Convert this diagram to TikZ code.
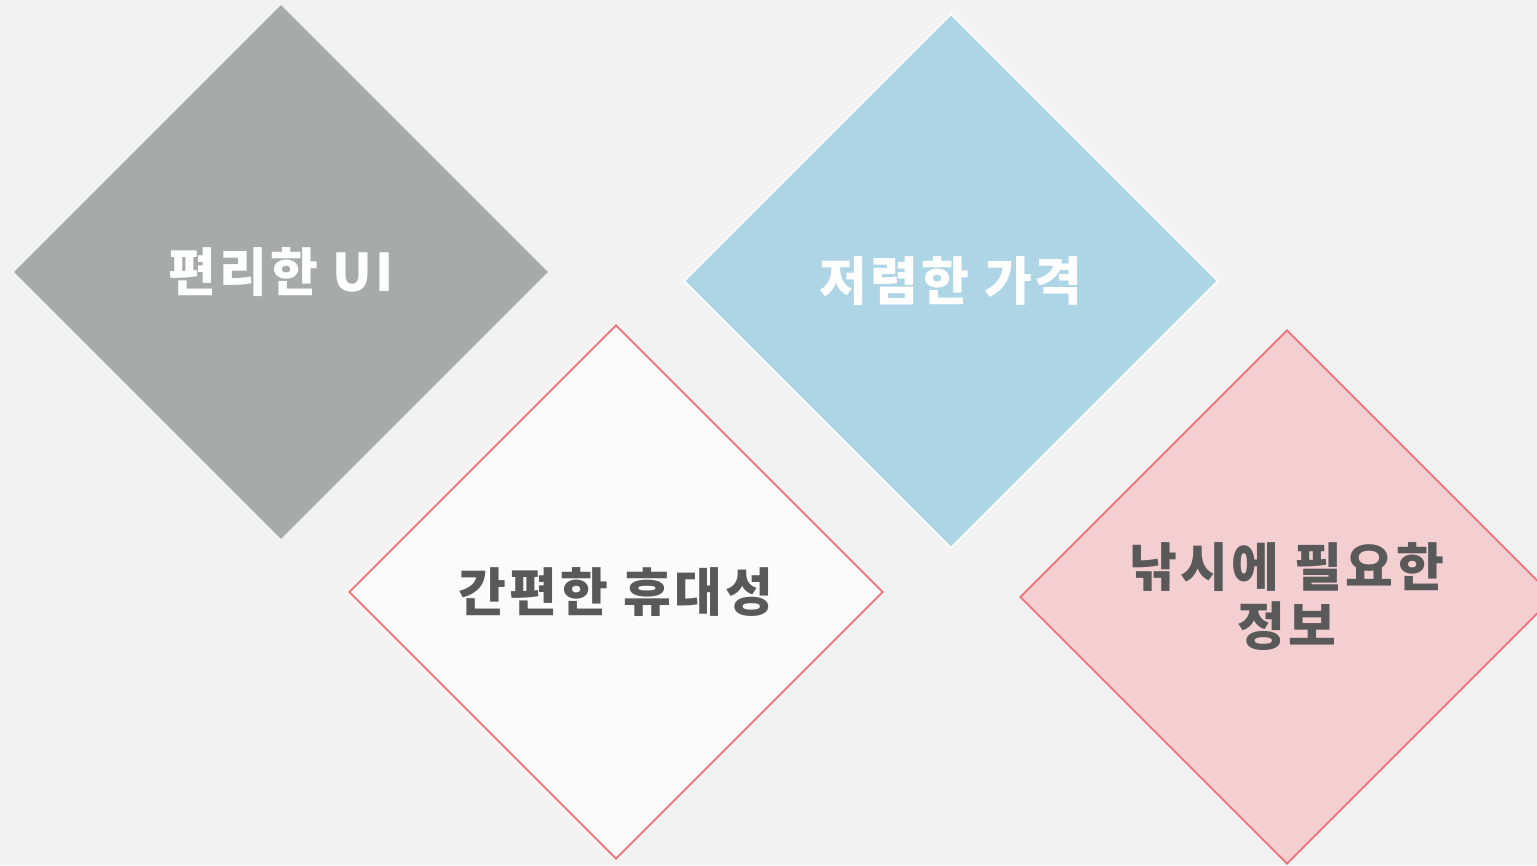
\documentclass[tikz,border=0pt]{standalone}
\usepackage{fontspec}
\usepackage{xcolor}
\usepackage{tikz}
\usetikzlibrary{shapes.geometric}
\newfontfamily\korfont{Noto Sans CJK KR}[LetterSpace=6]
\definecolor{bg}{HTML}{F2F2F2}
\definecolor{grayfill}{HTML}{A7AAA9}
\definecolor{bluefill}{HTML}{AED5E5}
\definecolor{whitefill}{HTML}{FBFBFB}
\definecolor{pinkfill}{HTML}{F4CFD2}
\definecolor{redline}{HTML}{F0707A}
\definecolor{darktext}{HTML}{595959}
\tikzset{
  tile/.style={diamond, aspect=1, inner sep=0pt, minimum width=534pt, minimum height=534pt,
    align=center, font=\korfont\bfseries\fontsize{52}{59}\selectfont},
  lighttile/.style={tile, text=white},
  darktile/.style={tile, text=darktext, draw=redline, line width=1.8pt},
}

\begin{document}
\begin{tikzpicture}[x=1pt,y=-1pt]
  \useasboundingbox (0,0) rectangle (1537,865);
  \fill[bg] (0,0) rectangle (1537,865);

  \node[lighttile, fill=grayfill] (ui) at (281,272) {\raisebox{-4pt}{편리한 UI}};
  \node[lighttile, fill=bluefill, draw=white, line width=1.5pt] (price) at (951,281) {\raisebox{-5pt}{저렴한 가격}};
  \node[darktile, fill=whitefill] (carry) at (616,592) {간편한 휴대성};
  \node[darktile, fill=pinkfill] (info) at (1287,597) {낚시에 필요한\\정보};
\end{tikzpicture}
\end{document}
